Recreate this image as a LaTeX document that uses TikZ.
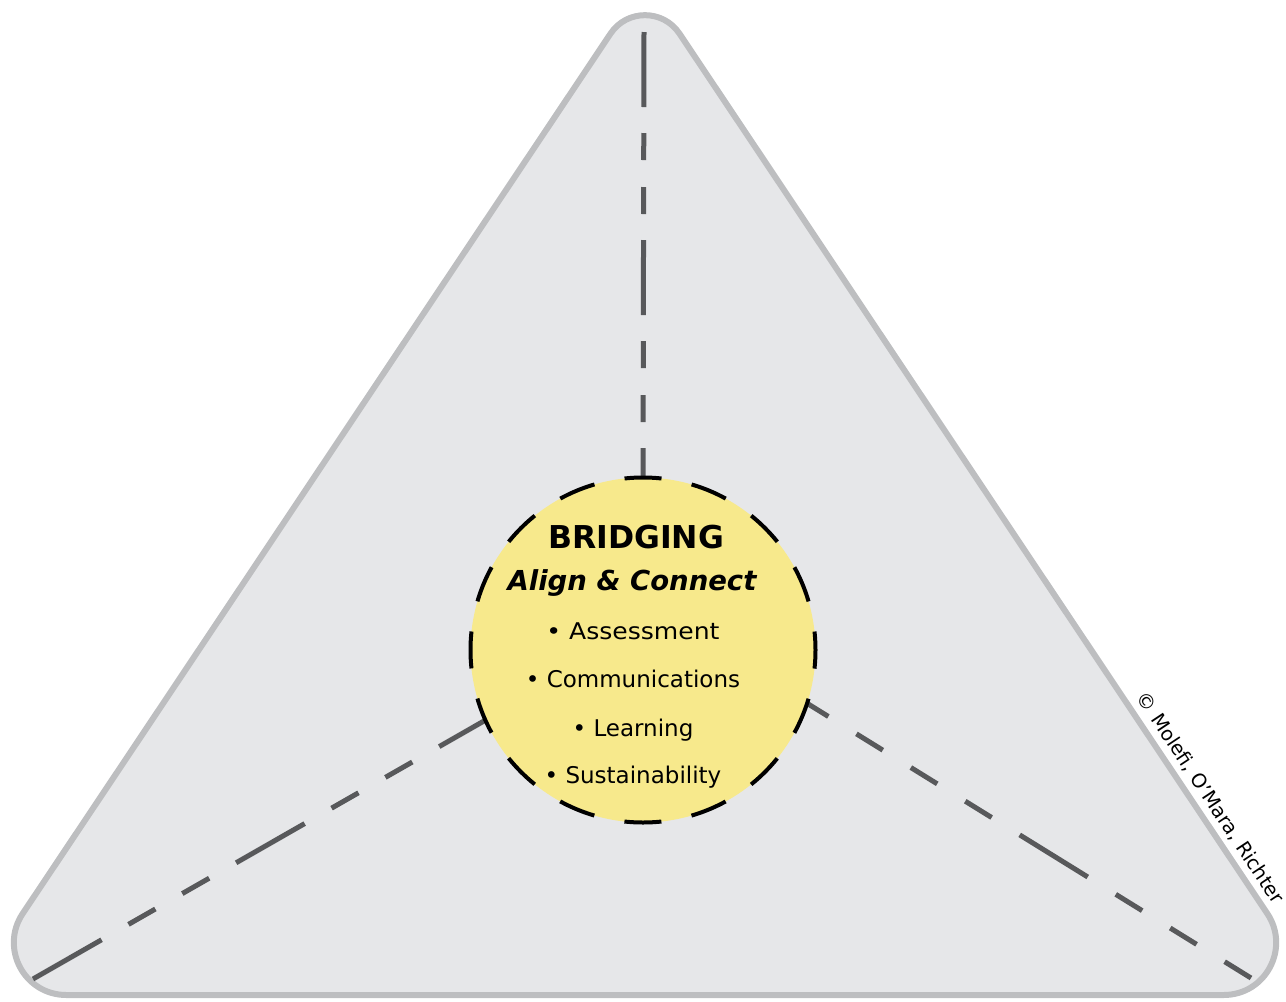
\documentclass[tikz,border=0pt]{standalone}
\usepackage{fontspec}
\setmainfont{DejaVu Sans}
\usetikzlibrary{backgrounds}
\definecolor{trifill}{RGB}{230,231,233}
\definecolor{triedge}{RGB}{189,190,192}
\definecolor{spokegray}{RGB}{88,89,91}
\definecolor{hubyellow}{RGB}{247,233,140}
\begin{document}
\begin{tikzpicture}[x=1pt,y=-1pt,
  spokeline/.style={draw=spokegray,line width=5pt},
  toppattern/.style={dash pattern=on 75pt off 26pt on 27pt off 27pt on 27pt off 26pt},
  leftpattern/.style={dash pattern=on 79pt off 31pt on 31pt off 31pt on 31pt off 31pt},
  rightpattern/.style={dash pattern=on 31pt off 33pt on 31pt off 33pt on 31pt off 33pt on 80pt off 33pt},
  hubtext/.style={anchor=base,inner sep=0pt},
  item/.style={hubtext,font=\fontsize{23}{27}\selectfont},
  hubstyle/.style={circle,minimum size=345pt,inner sep=0pt,outer sep=0pt,fill=hubyellow,draw=black,line width=4pt,dash pattern=on 37pt off 30.74pt,dash phase=18.5pt},
  frame/.style={draw=triedge,fill=trifill,line width=6pt}
]
\useasboundingbox (0,0) rectangle (1286,1002);

\node[hubstyle] (hub) at (643,650) {};

\node[hubtext,font=\fontsize{31.5}{36}\selectfont\bfseries] (title) at (636,548) {BRIDGING};
\node[hubtext,font=\fontsize{27.5}{32}\selectfont\bfseries\itshape] (motto) at (632,590) {Align \& Connect};
\node[item,xscale=1.09] (i1) at (633,639) {• Assessment};
\node[item] (i2) at (633,687.5) {• Communications};
\node[item] (i3) at (633,736.5) {• Learning};
\node[item] (i4) at (633,783.5) {• Sustainability};

\node[font=\fontsize{19.5}{22}\selectfont,rotate=-56.4,inner sep=0pt] (copy) at (1210,798) {© Molefi, O'Mara, Richter};

\coordinate (topend) at (644,32);
\coordinate (leftend) at (33,979);
\coordinate (rightend) at (1251,978);

\begin{pgfonlayer}{background}
\draw[frame] (66.3,995) -- (1223.7,995)
  .. controls (1265.6,995) and (1290.54,948.34) .. (1267.26,913.5)
  -- (679.44,33.56)
  .. controls (663.05,9.03) and (626.95,9.03) .. (610.56,33.56)
  -- (22.74,913.5)
  .. controls (-0.54,948.34) and (24.4,995) .. (66.3,995) -- cycle;
\draw[spokeline,toppattern] (topend) -- (hub.north);
\draw[spokeline,leftpattern] (leftend) -- (hub.-156.2);
\draw[spokeline,rightpattern] (rightend) -- (hub.-18.6);
\end{pgfonlayer}
\end{tikzpicture}
\end{document}
